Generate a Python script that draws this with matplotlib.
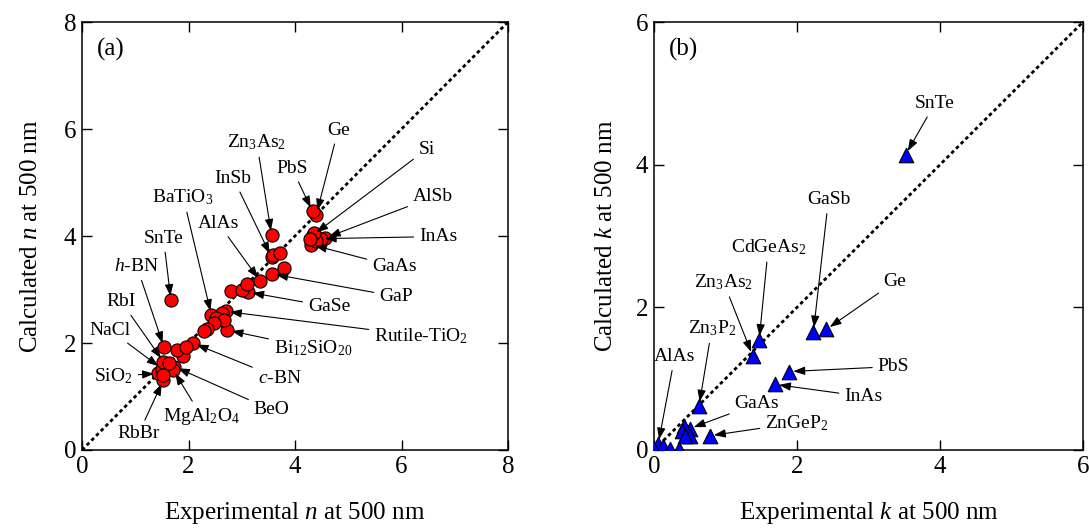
import matplotlib
matplotlib.use("Agg")
import matplotlib.pyplot as plt

plt.rcParams['font.family'] = ['Liberation Serif', 'DejaVu Serif']
plt.rcParams['mathtext.fontset'] = 'custom'
plt.rcParams['mathtext.rm'] = 'Liberation Serif'
plt.rcParams['mathtext.it'] = 'Liberation Serif:italic'

# ---------------- Panel (a): refractive index n ----------------
n_names = ['Ge', 'PbS', 'Zn$_3$As$_2$', 'Si', 'AlSb', 'InAs', 'GaAs', 'InSb',
           'GaP', 'AlAs', 'GaSe', 'SnTe', 'Rutile-TiO$_2$', 'Bi$_{12}$SiO$_{20}$',
           'BaTiO$_3$', '$c$-BN', '$h$-BN', 'BeO', 'MgAl$_2$O$_4$', 'RbBr',
           'SiO$_2$', 'NaCl', 'RbI',
           '', '', '', '', '', '', '', '', '', '', '', '', '', '', '', '', '', '', '', '']
n_exp = [4.40, 4.33, 3.56, 4.34, 4.56, 4.48, 4.30, 3.56,
         3.57, 3.35, 3.12, 1.67, 2.70, 2.73,
         2.43, 2.08, 1.54, 1.73, 1.71, 1.53,
         1.43, 1.50, 1.53,
         4.40, 4.36, 4.28, 3.59, 3.71, 3.79, 2.79, 3.00, 3.10,
         2.62, 2.51, 2.67, 2.48, 2.34, 2.29, 1.90, 1.79, 1.95, 1.64, 1.53]
n_calc = [4.40, 4.46, 4.02, 4.02, 3.96, 3.95, 3.84, 3.60,
          3.29, 3.15, 2.95, 2.80, 2.59, 2.24,
          2.52, 2.00, 1.92, 1.56, 1.50, 1.31,
          1.43, 1.52, 1.65,
          3.90, 4.05, 3.95, 3.64, 3.68, 3.41, 2.97, 3.00, 3.10,
          2.57, 2.46, 2.43, 2.37, 2.27, 2.23, 1.76, 1.87, 1.93, 1.62, 1.40]

# label text positions (data coordinates) for panel (a)
n_label_pos = {
    'Ge': (4.81, 5.98), 'PbS': (3.94, 5.27), 'Zn$_3$As$_2$': (3.28, 5.76),
    'Si': (6.47, 5.62), 'AlSb': (6.59, 4.73), 'InAs': (6.69, 3.99),
    'GaAs': (5.87, 3.43), 'InSb': (2.84, 5.08), 'GaP': (5.90, 2.87),
    'AlAs': (2.56, 4.24), 'GaSe': (4.64, 2.68), 'SnTe': (1.53, 3.96),
    'Rutile-TiO$_2$': (6.37, 2.13), 'Bi$_{12}$SiO$_{20}$': (4.34, 1.90),
    'BaTiO$_3$': (1.90, 4.73), '$c$-BN': (3.71, 1.34), '$h$-BN': (1.03, 3.43),
    'BeO': (3.56, 0.75), 'MgAl$_2$O$_4$': (2.25, 0.62), 'RbBr': (1.06, 0.30),
    'SiO$_2$': (0.59, 1.38), 'NaCl': (0.53, 2.24), 'RbI': (0.74, 2.77),
}

# ---------------- Panel (b): extinction coefficient k ----------------
k_names = ['SnTe', 'GaSb', 'Ge', 'CdGeAs$_2$', 'Zn$_3$As$_2$', 'PbS', 'InAs',
           'Zn$_3$P$_2$', 'GaAs', 'ZnGeP$_2$', 'AlAs',
           '', '', '', '', '', '', '', '']
k_exp = [3.52, 2.23, 2.41, 1.47, 1.38, 1.89, 1.69,
         0.63, 0.50, 0.78, 0.06,
         0.42, 0.39, 0.50, 0.43, 0.00, 0.13, 0.22, 0.35]
k_calc = [4.14, 1.66, 1.69, 1.54, 1.32, 1.10, 0.92,
          0.62, 0.30, 0.20, 0.09,
          0.33, 0.26, 0.19, 0.19, 0.02, 0.05, 0.01, 0.02]

k_label_pos = {
    'SnTe': (3.93, 4.86), 'GaSb': (2.44, 3.51), 'Ge': (3.37, 2.36),
    'CdGeAs$_2$': (1.60, 2.85), 'Zn$_3$As$_2$': (0.97, 2.36),
    'PbS': (3.35, 1.17), 'InAs': (2.93, 0.75), 'Zn$_3$P$_2$': (0.81, 1.71),
    'GaAs': (1.44, 0.65), 'ZnGeP$_2$': (2.00, 0.38), 'AlAs': (0.29, 1.31),
}

fig = plt.figure(figsize=(10.89, 5.29), dpi=100)
ax1 = fig.add_axes([82 / 1089, 1 - 450 / 529, 426 / 1089, 428 / 529])
ax2 = fig.add_axes([654 / 1089, 1 - 450 / 529, 429 / 1089, 428 / 529])

FS = 18
AFS = 14


def style(ax, lim, ticks):
    ax.set_xlim(0, lim)
    ax.set_ylim(0, lim)
    ax.set_xticks(ticks)
    ax.set_yticks(ticks)
    ax.tick_params(direction='in', length=7, width=1, top=True, right=True,
                   labelsize=FS, pad=4)
    for s in ax.spines.values():
        s.set_linewidth(1.1)
    ax.plot([0, lim], [0, lim], color='black', lw=2,
            linestyle=(0, (1.3, 1.1)), zorder=1)


def annotate(ax, names, xs, ys, pos):
    for nm, x, y in zip(names, xs, ys):
        if nm and nm in pos:
            ax.annotate(nm, xy=(x, y), xytext=pos[nm], ha='center', va='center',
                        fontsize=AFS, zorder=4,
                        arrowprops=dict(arrowstyle='-|>,head_length=0.5,head_width=0.18',
                                        color='black', lw=0.8,
                                        shrinkA=2, shrinkB=3))


style(ax1, 8, [0, 2, 4, 6, 8])
ax1.scatter(n_exp, n_calc, s=90, facecolor='#ff0000', edgecolor='black',
            linewidth=0.8, zorder=3)
annotate(ax1, n_names, n_exp, n_calc, n_label_pos)
ax1.text(0.54, 7.48, '(a)', fontsize=FS, ha='center', va='center')
ax1.set_xlabel('Experimental $n$ at 500 nm', fontsize=FS, labelpad=16)
ax1.set_ylabel('Calculated $n$ at 500 nm', fontsize=FS, labelpad=16)

style(ax2, 6, [0, 2, 4, 6])
ax2.scatter(k_exp, k_calc, s=110, marker='^', facecolor='#0000ff',
            edgecolor='black', linewidth=0.8, zorder=3)
annotate(ax2, k_names, k_exp, k_calc, k_label_pos)
ax2.text(0.41, 5.61, '(b)', fontsize=FS, ha='center', va='center')
ax2.set_xlabel('Experimental $k$ at 500 nm', fontsize=FS, labelpad=16)
ax2.set_ylabel('Calculated $k$ at 500 nm', fontsize=FS, labelpad=14)

fig.savefig('out.png', dpi=100)
